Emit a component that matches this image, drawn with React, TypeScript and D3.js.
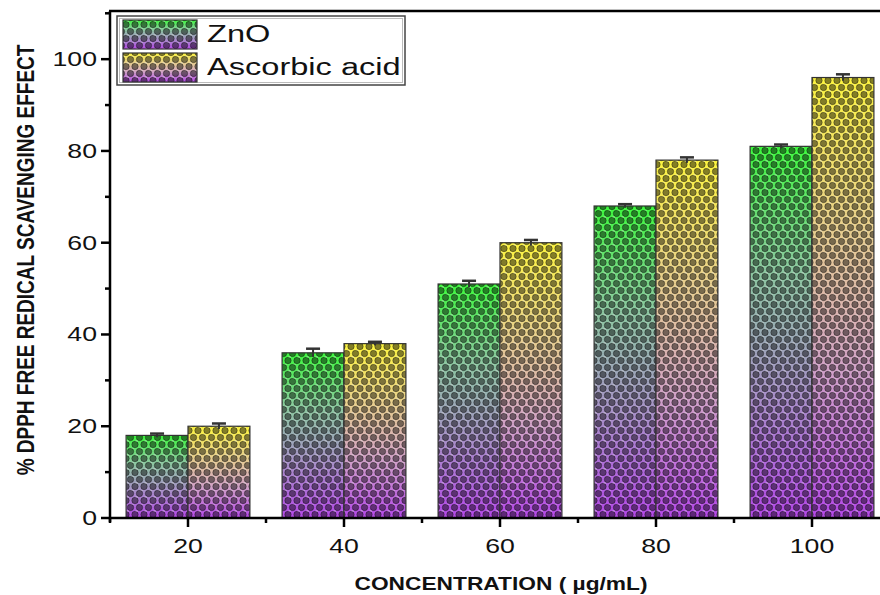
import React from 'react';
import * as d3 from 'd3';

const categories = ['20', '40', '60', '80', '100'];
const seriesNames = ['ZnO', 'Ascorbic acid'];
const znoValues = [18, 36, 51, 68, 81];
const ascorbicValues = [20, 38, 60, 78, 96];
const znoErrors = [0.4, 0.9, 0.7, 0.4, 0.4];
const ascorbicErrors = [0.6, 0.4, 0.6, 0.6, 0.7];
const yMajorTicks = [0, 20, 40, 60, 80, 100];
const yMinorTicks = [10, 30, 50, 70, 90, 110];

const WIDTH = 880;
const HEIGHT = 595;
const SX = 1.3; // horizontal stretch of text seen in the picture
const FONT = '"Liberation Sans", Arial, sans-serif';

const gradients = [
  { id: 'grad-zno', stops: ['#3ef83e', '#8cc8a0', '#a890c8', '#b448e8'] },
  { id: 'grad-asc', stops: ['#fcf440', '#e8d08c', '#d0a0c8', '#b448e8'] },
];

const App: React.FC = () => {
  const left = 110;
  const bottom = 518;
  const top = 11;

  const x = d3.scaleBand<string>().domain(categories).range([left, left + 156 * 5]).padding(0);
  const sub = d3.scaleBand<string>().domain(seriesNames).range([0, x.bandwidth()]).paddingInner(0).paddingOuter(0.26);
  const y = d3.scaleLinear().domain([0, 110.5]).range([bottom, top]);

  const series = [
    { name: seriesNames[0], values: znoValues, errors: znoErrors, grad: 'grad-zno' },
    { name: seriesNames[1], values: ascorbicValues, errors: ascorbicErrors, grad: 'grad-asc' },
  ];

  const bandEdges = categories.map(c => (x(c) || 0)).concat([(x(categories[4]) || 0) + x.bandwidth()]);

  return (
    <svg width={WIDTH} height={HEIGHT} style={{ position: 'absolute', left: 0, top: 0, background: '#fff' }}>
      <defs>
        {gradients.map(g => (
          <linearGradient key={g.id} id={g.id} x1="0" y1="0" x2="0" y2="1">
            {g.stops.map((s, i) => (
              <stop key={i} offset={`${(i / (g.stops.length - 1)) * 100}%`} stopColor={s} />
            ))}
          </linearGradient>
        ))}
        <pattern id="dots" patternUnits="userSpaceOnUse" width={9} height={14}>
          <circle cx={4.5} cy={3.5} r={3.2} fill="rgba(0,0,0,0.48)" stroke="rgba(0,0,0,0.6)" strokeWidth={0.6} />
          <circle cx={0} cy={10.5} r={3.2} fill="rgba(0,0,0,0.48)" stroke="rgba(0,0,0,0.6)" strokeWidth={0.6} />
          <circle cx={9} cy={10.5} r={3.2} fill="rgba(0,0,0,0.48)" stroke="rgba(0,0,0,0.6)" strokeWidth={0.6} />
          <rect x={0.5} y={6.2} width={2.5} height={1.6} fill="rgba(255,255,255,0.3)" />
          <rect x={5.5} y={-0.8} width={2.5} height={1.6} fill="rgba(255,255,255,0.3)" />
        </pattern>
      </defs>

      {/* bars */}
      {series.map(s => (
        <g key={s.name}>
          {categories.map((c, i) => {
            const bx = (x(c) || 0) + (sub(s.name) || 0);
            const by = y(s.values[i]);
            const bh = bottom - by;
            return (
              <g key={c}>
                <rect x={bx} y={by} width={sub.bandwidth()} height={bh} fill={`url(#${s.grad})`} />
                <rect x={bx} y={by} width={sub.bandwidth()} height={bh} fill="url(#dots)" stroke="#333" strokeWidth={1.2} />
              </g>
            );
          })}
        </g>
      ))}

      {/* error bars */}
      {series.map(s => (
        <g key={s.name + '-err'} stroke="#333" strokeWidth={2}>
          {categories.map((c, i) => {
            const cx = (x(c) || 0) + (sub(s.name) || 0) + sub.bandwidth() / 2;
            const y1 = y(s.values[i] + s.errors[i]);
            const y2 = y(s.values[i] - s.errors[i]);
            return (
              <g key={c}>
                <line x1={cx} x2={cx} y1={y1} y2={y2} />
                <line x1={cx - 7} x2={cx + 7} y1={y1} y2={y1} strokeWidth={2.5} />
              </g>
            );
          })}
        </g>
      ))}

      {/* axes */}
      <g stroke="#000" strokeWidth={2.5}>
        <line x1={left} x2={left} y1={top} y2={bottom + 4} />
        <line x1={left - 1} x2={WIDTH} y1={bottom} y2={bottom} />
        <line x1={left - 1} x2={WIDTH} y1={top} y2={top} />
        {yMajorTicks.map(t => (
          <line key={t} x1={left - 9} x2={left} y1={y(t)} y2={y(t)} />
        ))}
        {yMinorTicks.map(t => (
          <line key={t} x1={left - 5} x2={left} y1={y(t)} y2={y(t)} />
        ))}
        {categories.map(c => (
          <line key={c} x1={(x(c) || 0) + x.bandwidth() / 2} x2={(x(c) || 0) + x.bandwidth() / 2} y1={bottom} y2={bottom + 9} />
        ))}
        {bandEdges.map((e, i) => (
          <line key={i} x1={e} x2={e} y1={bottom} y2={bottom + 5} />
        ))}
      </g>

      {/* tick labels */}
      <g fontFamily={FONT} fontSize={20.5} fill="#111">
        {yMajorTicks.map(t => (
          <text key={t} transform={`translate(${left - 13},${y(t) + 7}) scale(${SX},1)`} textAnchor="end">
            {t}
          </text>
        ))}
        {categories.map(c => (
          <text key={c} transform={`translate(${(x(c) || 0) + x.bandwidth() / 2},${bottom + 35}) scale(${SX},1)`} textAnchor="middle">
            {c}
          </text>
        ))}
      </g>

      {/* axis titles */}
      <text
        transform={`translate(${501},${590}) scale(${SX},1)`}
        textAnchor="middle"
        fontFamily={FONT}
        fontWeight="bold"
        fontSize={17.5}
        fill="#111"
      >
        CONCENTRATION ( µg/mL)
      </text>
      <text
        transform={`translate(${34},${260}) scale(${SX},1) rotate(-90)`}
        textAnchor="middle"
        fontFamily={FONT}
        fontWeight="bold"
        fontSize={19}
        fill="#111"
      >
        % DPPH FREE REDICAL SCAVENGING EFFECT
      </text>

      {/* legend */}
      <g>
        <rect x={117} y={16} width={288} height={69} fill="#fff" stroke="#444" strokeWidth={1.5} />
        <rect x={119.5} y={18.5} width={283} height={64} fill="none" stroke="#bbb" strokeWidth={1} />
        {series.map((s, i) => {
          const sy = 20 + i * 33;
          return (
            <g key={s.name}>
              <rect x={123} y={sy} width={74} height={29} fill={`url(#${s.grad})`} />
              <rect x={123} y={sy} width={74} height={29} fill="url(#dots)" stroke="#333" strokeWidth={1.2} />
              <text
                transform={`translate(207,${sy + 22}) scale(1.33,1)`}
                fontFamily={FONT}
                fontSize={24.5}
                fill="#111"
              >
                {s.name}
              </text>
            </g>
          );
        })}
      </g>
    </svg>
  );
};

export default App;
